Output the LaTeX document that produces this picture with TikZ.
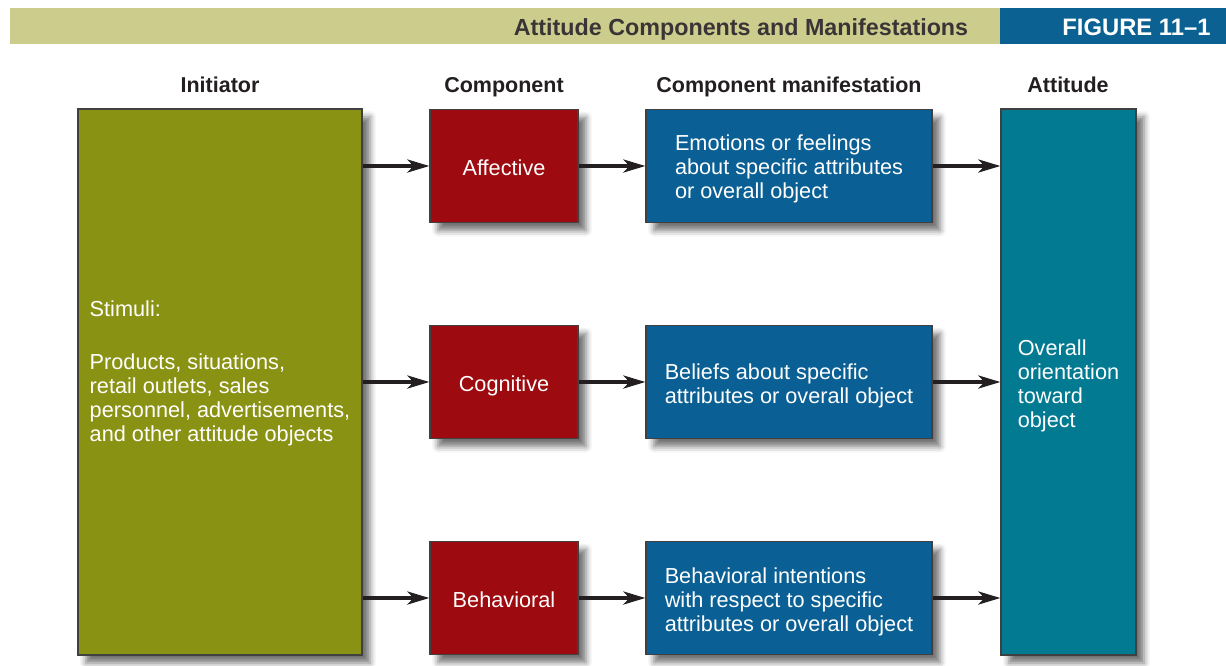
\documentclass[tikz,border=0pt]{standalone}
\usepackage{fontspec}
\setmainfont{Liberation Sans}
\usetikzlibrary{arrows.meta,shadows.blur}
\definecolor{hdrolive}{HTML}{CCCD8D}
\definecolor{hdrblue}{HTML}{0A6192}
\definecolor{olivebox}{HTML}{8A9213}
\definecolor{redbox}{HTML}{9D0A0F}
\definecolor{bluebox}{HTML}{0A6094}
\definecolor{tealbox}{HTML}{017A92}
\definecolor{darktext}{HTML}{231F20}
\begin{document}
\begin{tikzpicture}[x=1pt,y=-1pt,
  box/.style={draw=black!75, line width=1.2pt,
    blur shadow={shadow xshift=8pt,shadow yshift=-8pt,shadow blur radius=6pt,shadow opacity=55},
    inner sep=0pt},
  lbl/.style={text=white, inner sep=0pt, font=\fontsize{21.7}{24}\selectfont, align=left},
  arr/.style={draw=darktext, line width=3.5pt, -{Stealth[length=22pt,width=13pt,inset=6pt]}},
  colhead/.style={font=\fontsize{21.5}{24}\selectfont\bfseries, text=darktext, anchor=base},
  hdrtext/.style={font=\fontsize{23.3}{26}\selectfont\bfseries, anchor=base}
]
\useasboundingbox (0,0) rectangle (1226,665);
% header
\node[fill=hdrolive, minimum width=990pt, minimum height=36pt, inner sep=0pt] (hbar) at (505,26) {};
\node[fill=hdrblue, minimum width=226pt, minimum height=36pt, inner sep=0pt] (hfig) at (1113,26) {};
\node[hdrtext, text=darktext!90] (title) at (741,35.5) {Attitude Components and Manifestations};
\node[hdrtext, text=white, font=\fontsize{23.8}{26}\selectfont\bfseries] (figno) at (1136.5,35.5) {FIGURE 11–1};
% column headers
\node[colhead] (h1) at (220,92.7) {Initiator};
\node[colhead] (h2) at (504,92.7) {Component};
\node[colhead] (h3) at (789,92.7) {Component manifestation};
\node[colhead] (h4) at (1068,92.7) {Attitude};
% boxes
\node[box, fill=olivebox, minimum width=284pt, minimum height=546pt,
  label={[lbl, yshift=8.5pt]center:Stimuli:\\[29pt]Products, situations,\\retail outlets, sales\\personnel, advertisements,\\and other attitude objects}] (ini) at (220,382) {};
\node[box, fill=tealbox, minimum width=135pt, minimum height=546pt,
  label={[lbl, yshift=-4pt]center:Overall\\orientation\\toward\\object}] (att) at (1068.5,382) {};
\node[box, fill=redbox, minimum width=148pt, minimum height=113pt,
  label={[lbl, yshift=-2pt]center:Affective}] (c1) at (504,166) {};
\node[box, fill=redbox, minimum width=148pt, minimum height=113pt,
  label={[lbl, yshift=-4pt]center:Cognitive}] (c2) at (504,382) {};
\node[box, fill=redbox, minimum width=148pt, minimum height=113pt,
  label={[lbl, yshift=-2pt]center:Behavioral}] (c3) at (504,598) {};
\node[box, fill=bluebox, minimum width=286pt, minimum height=113pt,
  label={[lbl, yshift=-3pt]center:Emotions or feelings\\about specific attributes\\or overall object}] (m1) at (789,166) {};
\node[box, fill=bluebox, minimum width=286pt, minimum height=113pt,
  label={[lbl, yshift=-4pt]center:Beliefs about specific\\attributes or overall object}] (m2) at (789,382) {};
\node[box, fill=bluebox, minimum width=286pt, minimum height=113pt,
  label={[lbl, yshift=-4pt]center:Behavioral intentions\\with respect to specific\\attributes or overall object}] (m3) at (789,598) {};
% arrows
\draw[arr] (ini.east |- c1.west) -- (c1.west);
\draw[arr] (ini.east |- c2.west) -- (c2.west);
\draw[arr] (ini.east |- c3.west) -- (c3.west);
\draw[arr] (c1.east) -- (m1.west);
\draw[arr] (c2.east) -- (m2.west);
\draw[arr] (c3.east) -- (m3.west);
\draw[arr] (m1.east) -- (att.west |- m1.east);
\draw[arr] (m2.east) -- (att.west |- m2.east);
\draw[arr] (m3.east) -- (att.west |- m3.east);
\end{tikzpicture}
\end{document}
